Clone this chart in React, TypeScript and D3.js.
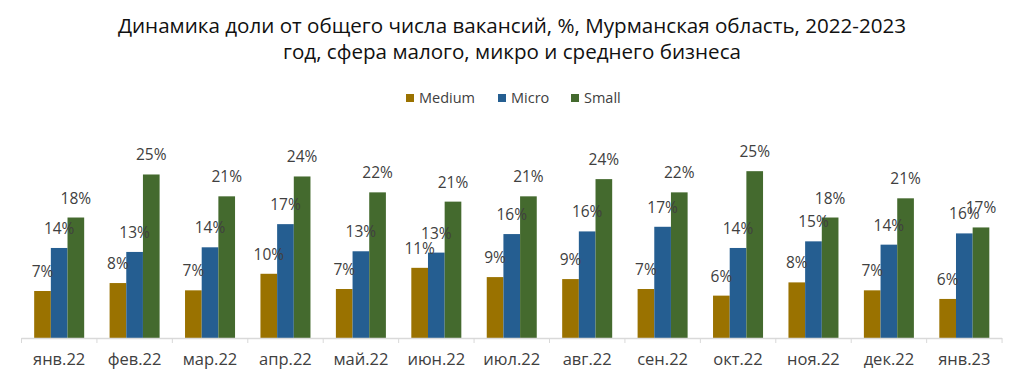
import * as React from 'react'
import * as d3 from 'd3'

const titleLines = [
  'Динамика доли от общего числа вакансий, %, Мурманская область, 2022-2023',
  'год, сфера малого, микро и среднего бизнеса',
]

const months = [
  'янв.22', 'фев.22', 'мар.22', 'апр.22', 'май.22', 'июн.22', 'июл.22',
  'авг.22', 'сен.22', 'окт.22', 'ноя.22', 'дек.22', 'янв.23',
]

const seriesNames = ['Medium', 'Micro', 'Small']
const seriesColors = ['#9a7200', '#255e91', '#446a2e']

const medium = [7.1, 8.3, 7.2, 9.7, 7.4, 10.6, 9.2, 8.9, 7.4, 6.4, 8.4, 7.2, 5.9]
const micro = [13.6, 13.0, 13.7, 17.2, 13.1, 12.9, 15.7, 16.1, 16.8, 13.6, 14.6, 14.1, 15.8]
const small = [18.2, 24.7, 21.4, 24.4, 22.0, 20.6, 21.4, 24.0, 22.0, 25.2, 18.2, 21.1, 16.7]

const seriesValues = [medium, micro, small]

const W = 1024
const H = 384

export default function App() {
  const x = d3.scaleBand().domain(months).range([21.5, 1002]).paddingInner(0.337).paddingOuter(0.168)
  const xs = d3.scaleBand().domain(seriesNames).range([0, x.bandwidth()])
  const y = d3.scaleLinear().domain([0, 25]).range([338, 338 - 165.5])
  const fmt = (v) => `${Math.round(v)}%`
  const step = x.step()
  const tickXs = d3.range(months.length + 1).map((i) => x(months[0]) - x.paddingOuter() * step + i * step)

  return (
    <svg width={W} height={H} style={{ position: 'absolute', left: 0, top: 0, background: '#fff' }}>
      <g fontFamily="'Open Sans', sans-serif">
        {titleLines.map((t, i) => (
          <text key={i} x={512} y={33 + i * 25.5} textAnchor="middle" fontSize={20.6} fill="#111" fontWeight={500}>
            {t}
          </text>
        ))}
      </g>

      <g fontFamily="'Open Sans', sans-serif" fontSize={14.5} fill="#404040">
        {seriesNames.map((s, i) => {
          const lx = [406, 498, 571][i]
          return (
            <g key={s}>
              <rect x={lx} y={94} width={8} height={8} fill={seriesColors[i]} />
              <text x={lx + 13} y={103}>{s}</text>
            </g>
          )
        })}
      </g>

      {seriesValues.map((vals, si) => (
        <g key={si}>
          {vals.map((v, i) => (
            <rect
              key={i}
              x={x(months[i]) + xs(seriesNames[si])}
              y={y(v)}
              width={xs.bandwidth()}
              height={y(0) - y(v)}
              fill={seriesColors[si]}
            />
          ))}
        </g>
      ))}

      <g fontFamily="'Open Sans', sans-serif" fontSize={15.5} fill="#404040" textAnchor="middle">
        {seriesValues.map((vals, si) =>
          vals.map((v, i) => (
            <text key={`${si}-${i}`} x={x(months[i]) + xs(seriesNames[si]) + xs.bandwidth() / 2} y={y(v) - 14}>
              {fmt(v)}
            </text>
          ))
        )}
      </g>

      <line x1={tickXs[0]} x2={tickXs[tickXs.length - 1]} y1={338.5} y2={338.5} stroke="#d9d9d9" strokeWidth={1.5} />
      {tickXs.map((tx, i) => (
        <line key={i} x1={tx} x2={tx} y1={338} y2={343} stroke="#d9d9d9" strokeWidth={1} />
      ))}
      <g fontFamily="'Open Sans', sans-serif" fontSize={16.5} fill="#404040" textAnchor="middle">
        {months.map((m) => (
          <text key={m} x={x(m) + x.bandwidth() / 2} y={365}>{m}</text>
        ))}
      </g>
    </svg>
  )
}
